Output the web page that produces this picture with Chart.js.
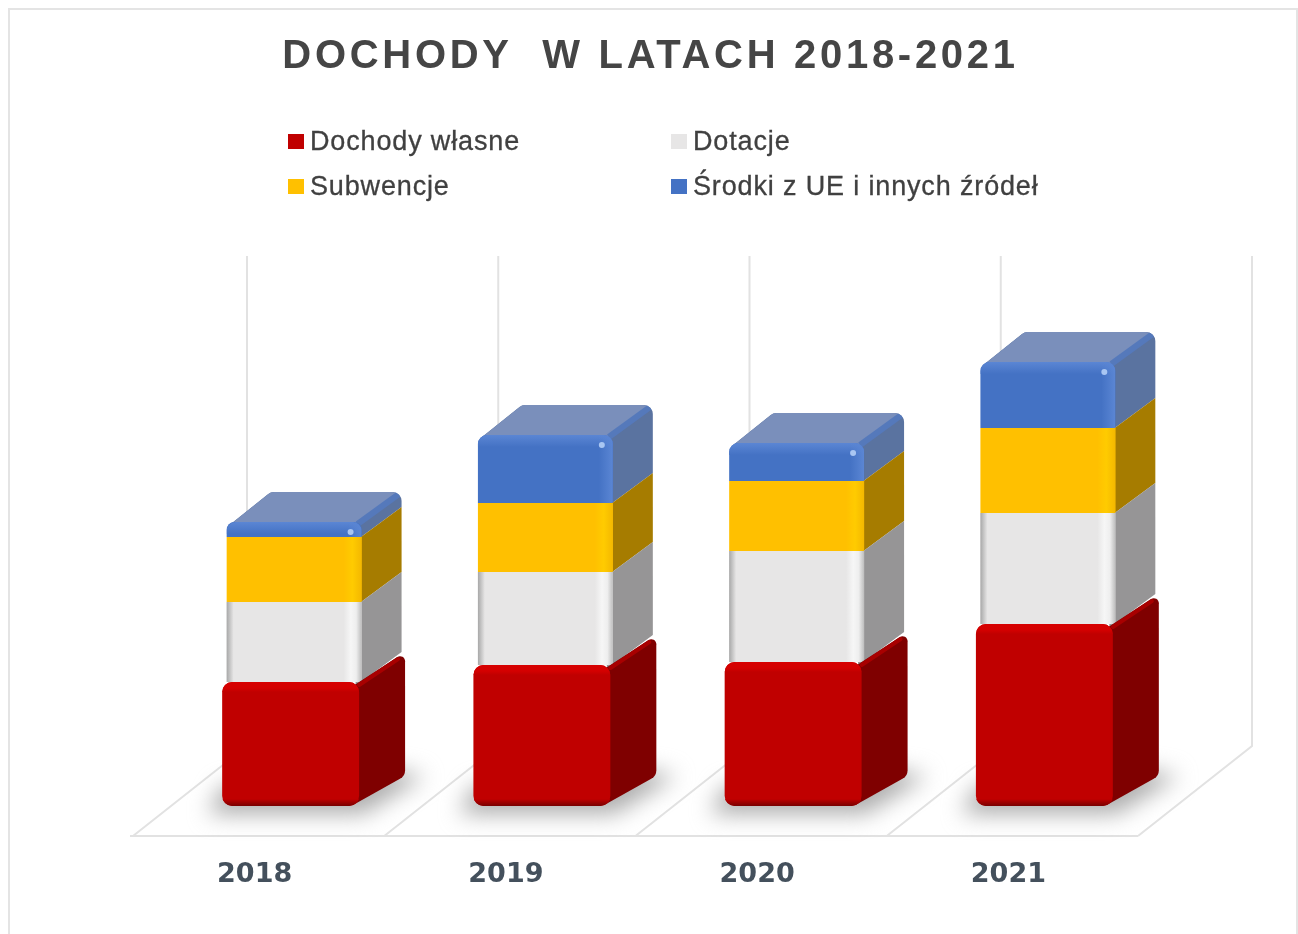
<!DOCTYPE html>
<html lang="pl">
<head>
<meta charset="utf-8">
<title>Dochody w latach 2018-2021</title>
<script src="https://cdn.jsdelivr.net/npm/chart.js@4"></script>
<style>
  html, body { margin: 0; background: #fff; overflow: hidden; }
  #wrap { position: relative; width: 1298px; height: 934px; overflow: hidden; }
  #frame { position: absolute; left: 8px; top: 8px; width: 1286px; height: 960px; border: 2px solid #e4e4e4; }
  canvas { position: absolute; left: 0; top: 0; }
  #legend { position: absolute; left: 288px; top: 119px; display: grid; grid-template-columns: 383px auto; font: 27px "Liberation Sans", sans-serif; color: #404040; letter-spacing: 0.85px; -webkit-text-stroke: 0.3px #404040; }
  #legend div { display: flex; align-items: center; height: 45px; white-space: nowrap; }
  #legend span { display: inline-block; width: 16px; height: 15px; margin-right: 6px; flex: none; }
</style>
</head>
<body>
<div id="wrap">
  <div id="frame"></div>
  <canvas id="chart" width="1298" height="934"></canvas>
  <div id="legend"></div>
</div>
<script>
const YEARS = ["2018", "2019", "2020", "2021"];
const SERIES_NAMES = ["Dochody własne", "Dotacje", "Subwencje", "Środki z UE i innych źródeł"];
// no scale is printed so the units are only relative
const DOCHODY_WLASNE = [12.4, 14.1, 14.4, 18.2];
const DOTACJE = [8.0, 9.3, 11.1, 11.1];
const SUBWENCJE = [6.5, 6.9, 7.0, 8.5];
const SRODKI_UE = [1.5, 6.8, 3.8, 6.6];

const FRONT = ["#c00000", "#e7e6e6", "#ffc000", "#4472c4"];
const SIDE = ["#7f0000", "#969596", "#a67c00", "#5a73a0"];
const TOP_FACE = "#7a8fbb";
const DEPTH_Y = 30;

function roundedPath(ctx, pts) {
  ctx.beginPath();
  const n = pts.length;
  ctx.moveTo((pts[n - 1][0] + pts[0][0]) / 2, (pts[n - 1][1] + pts[0][1]) / 2);
  pts.forEach((p, i) => {
    const q = pts[(i + 1) % n];
    ctx.arcTo(p[0], p[1], q[0], q[1], p[2]);
  });
  ctx.closePath();
}

function box(bar) {
  const left = bar.x - bar.width / 2;
  return { left, right: left + bar.width, top: bar.y, bottom: bar.base };
}

const floorAndWalls = {
  id: "floorAndWalls",
  beforeDraw(chart) {
    // title needs wider tracking than the tick labels
    const title = chart.titleBlock;
    if (!title._spaced) {
      const draw = title.draw;
      title.draw = function () {
        const ctx = this.ctx;
        ctx.save();
        ctx.letterSpacing = "3.7px";
        ctx.translate(-17, 0);
        draw.call(this);
        ctx.restore();
      };
      title._spaced = true;
    }
  },
  beforeDatasetsDraw(chart) {
    const { ctx, scales: { x, y } } = chart;
    const step = x.getPixelForValue(1) - x.getPixelForValue(0);
    const front = y.bottom + 30, back = y.bottom - 60;
    ctx.save();
    ctx.strokeStyle = "#e2e2e2";
    ctx.lineWidth = 2;
    for (let i = 0; i <= YEARS.length; i++) {
      const b = x.getPixelForValue(0) + (i - 0.5) * step;
      ctx.beginPath();
      ctx.moveTo(b - 32, front);
      ctx.lineTo(b + 82, back);
      ctx.lineTo(b + 82, y.top);
      ctx.stroke();
    }
    const first = x.getPixelForValue(0) - step / 2;
    ctx.beginPath();
    ctx.moveTo(first - 35, front);
    ctx.lineTo(first - 32 + YEARS.length * step, front);
    ctx.stroke();

    // soft shadow on the floor
    ctx.filter = "blur(11px)";
    ctx.fillStyle = "#adadad";
    chart.getDatasetMeta(0).data.forEach(bar => {
      const b = box(bar);
      ctx.beginPath();
      ctx.moveTo(b.left - 14, b.bottom + 8);
      ctx.lineTo(b.right + 4, b.bottom + 8);
      ctx.lineTo(b.right + 66, b.bottom - 30);
      ctx.lineTo(b.right + 20, b.bottom - 38);
      ctx.lineTo(b.left, b.bottom - 20);
      ctx.closePath();
      ctx.fill();
    });
    ctx.restore();
  },
  beforeDatasetDraw(chart, args) {
    const { ctx } = chart;
    const i = args.index;
    const dx = i === 0 ? 46 : 40;
    ctx.save();
    if (i > 0) ctx.translate(3.5, 0);
    args.meta.data.forEach(bar => {
      // positive stacks only round their top bar, the bottom one is rounded too here
      if (i === 0) bar.enableBorderRadius = true;
      const b = box(bar);
      if (i === FRONT.length - 1) {
        // top of the stack: side and top share one rounded outline
        ctx.save();
        roundedPath(ctx, [
          [b.left + 4, b.top + 2, 0],
          [b.left + dx + 4, b.top - DEPTH_Y, 9],
          [b.right + dx, b.top - DEPTH_Y, 9],
          [b.right + dx, b.bottom - DEPTH_Y, 0],
          [b.right - 6, b.bottom + 4, 0]
        ]);
        ctx.fillStyle = SIDE[i];
        ctx.fill();
        ctx.clip();
        ctx.beginPath();
        ctx.moveTo(b.left + 4, b.top + 2);
        ctx.lineTo(b.left + dx + 4, b.top - DEPTH_Y);
        ctx.lineTo(b.right + dx, b.top - DEPTH_Y);
        ctx.lineTo(b.right - 2, b.top + 2);
        ctx.closePath();
        ctx.fillStyle = TOP_FACE;
        ctx.fill();
        ctx.strokeStyle = "#5579bb";
        ctx.lineWidth = 6;
        ctx.beginPath();
        ctx.moveTo(b.right - 4, b.top + 2);
        ctx.lineTo(b.right + dx, b.top - DEPTH_Y);
        ctx.stroke();
        ctx.restore();
        return;
      }
      roundedPath(ctx, [
        [b.right - 6, b.top + 4, 0],
        [b.right + dx, b.top - DEPTH_Y, i === 0 ? 5 : 0],
        [b.right + dx, b.bottom - DEPTH_Y, i === 0 ? 10 : 0],
        [b.right - 6, b.bottom - (i === 0 ? 1 : -4), 0]
      ]);
      ctx.fillStyle = SIDE[i];
      ctx.fill();
      if (i === 0) {
        ctx.strokeStyle = "#a80000";
        ctx.lineWidth = 4;
        ctx.lineCap = "round";
        ctx.beginPath();
        ctx.moveTo(b.right, b.top + 3);
        ctx.lineTo(b.right + dx - 7, b.top - DEPTH_Y + 7);
        ctx.stroke();
      }
    });
  },
  afterDatasetDraw(chart, args) {
    const { ctx } = chart;
    const i = args.index;
    args.meta.data.forEach(bar => {
      const b = box(bar);
      const w = b.right - b.left, h = b.bottom - b.top;
      ctx.save();
      if (i === 0) {
        ctx.beginPath();
        ctx.roundRect(b.left, b.top, w, h, 10);
        ctx.clip();
        let g = ctx.createLinearGradient(0, b.top, 0, b.top + 10);
        g.addColorStop(0, "#d60000");
        g.addColorStop(0.6, "#d40000");
        g.addColorStop(1, "#c00000");
        ctx.fillStyle = g;
        ctx.fillRect(b.left, b.top, w, 10);
        g = ctx.createLinearGradient(0, b.bottom - 7, 0, b.bottom);
        g.addColorStop(0, "#c00000");
        g.addColorStop(1, "#780000");
        ctx.fillStyle = g;
        ctx.fillRect(b.left, b.bottom - 7, w, 7);
      } else if (i === 1) {
        let g = ctx.createLinearGradient(b.left, 0, b.left + 7, 0);
        g.addColorStop(0, "#a8a8a8");
        g.addColorStop(1, "#e7e6e6");
        ctx.fillStyle = g;
        ctx.fillRect(b.left, b.top, 7, h);
        g = ctx.createLinearGradient(b.right - 18, 0, b.right, 0);
        g.addColorStop(0, "#e7e6e6");
        g.addColorStop(0.4, "#f6f6f6");
        g.addColorStop(0.7, "#eeeeee");
        g.addColorStop(1, "#bdbdbd");
        ctx.fillStyle = g;
        ctx.fillRect(b.right - 18, b.top, 18, h);
      } else if (i === 2) {
        const g = ctx.createLinearGradient(b.right - 18, 0, b.right, 0);
        g.addColorStop(0, "#ffc000");
        g.addColorStop(0.5, "#ffcb00");
        g.addColorStop(1, "#f4b800");
        ctx.fillStyle = g;
        ctx.fillRect(b.right - 18, b.top, 18, h);
      } else {
        ctx.beginPath();
        ctx.roundRect(b.left, b.top, w, h + 1, [9, 9, 0, 0]);
        ctx.clip();
        let g = ctx.createLinearGradient(0, b.top, 0, b.top + 12);
        g.addColorStop(0, "#5b86d4");
        g.addColorStop(1, "#4472c4");
        ctx.fillStyle = g;
        ctx.fillRect(b.left, b.top, w, 12);
        g = ctx.createLinearGradient(b.right - 14, 0, b.right, 0);
        g.addColorStop(0, "rgba(90,134,212,0)");
        g.addColorStop(1, "#5b86d4");
        ctx.fillStyle = g;
        ctx.fillRect(b.right - 14, b.top, 14, h);
        ctx.fillStyle = "#a9c6f2";
        ctx.beginPath();
        ctx.arc(b.right - 11, b.top + 10, 3, 0, Math.PI * 2);
        ctx.fill();
      }
      ctx.restore();
    });
    ctx.restore();
  }
};

const seriesValues = [DOCHODY_WLASNE, DOTACJE, SUBWENCJE, SRODKI_UE];

new Chart(document.getElementById("chart"), {
  type: "bar",
  data: {
    labels: YEARS,
    datasets: SERIES_NAMES.map((name, i) => ({
      label: name,
      data: seriesValues[i],
      backgroundColor: FRONT[i],
      stack: "dochody",
      categoryPercentage: 1,
      barPercentage: i === 0 ? 0.545 : 0.537,
      inflateAmount: 0,
      borderSkipped: false,
      borderRadius: i === 0 ? 10 : i === 3 ? { topLeft: 9, topRight: 9 } : 0
    }))
  },
  options: {
    responsive: false,
    animation: false,
    layout: { padding: { left: 165, right: 128, bottom: 45 } },
    plugins: {
      legend: { display: false },
      tooltip: { enabled: false },
      title: {
        display: true,
        text: "DOCHODY  W LATACH 2018-2021",
        color: "#454545",
        font: { family: "Liberation Sans", size: 40, weight: "bold", lineHeight: 1.2 },
        padding: { top: 33, bottom: 175 }
      }
    },
    scales: {
      x: {
        stacked: true,
        afterFit(scale) { scale.height = 83; },
        grid: { display: false, drawTicks: false },
        border: { display: false },
        ticks: {
          color: "#44505c",
          padding: 53,
          labelOffset: -36,
          maxRotation: 0,
          font: { family: "DejaVu Sans", size: 27, weight: "bold", lineHeight: 1.2 }
        }
      },
      y: { stacked: true, display: false, min: 0, max: 55 }
    }
  },
  plugins: [floorAndWalls]
});

const legendBox = document.getElementById("legend");
SERIES_NAMES.forEach((name, i) => {
  const item = document.createElement("div");
  const mark = document.createElement("span");
  mark.style.background = FRONT[i];
  item.appendChild(mark);
  item.appendChild(document.createTextNode(name));
  legendBox.appendChild(item);
});
</script>
</body>
</html>
